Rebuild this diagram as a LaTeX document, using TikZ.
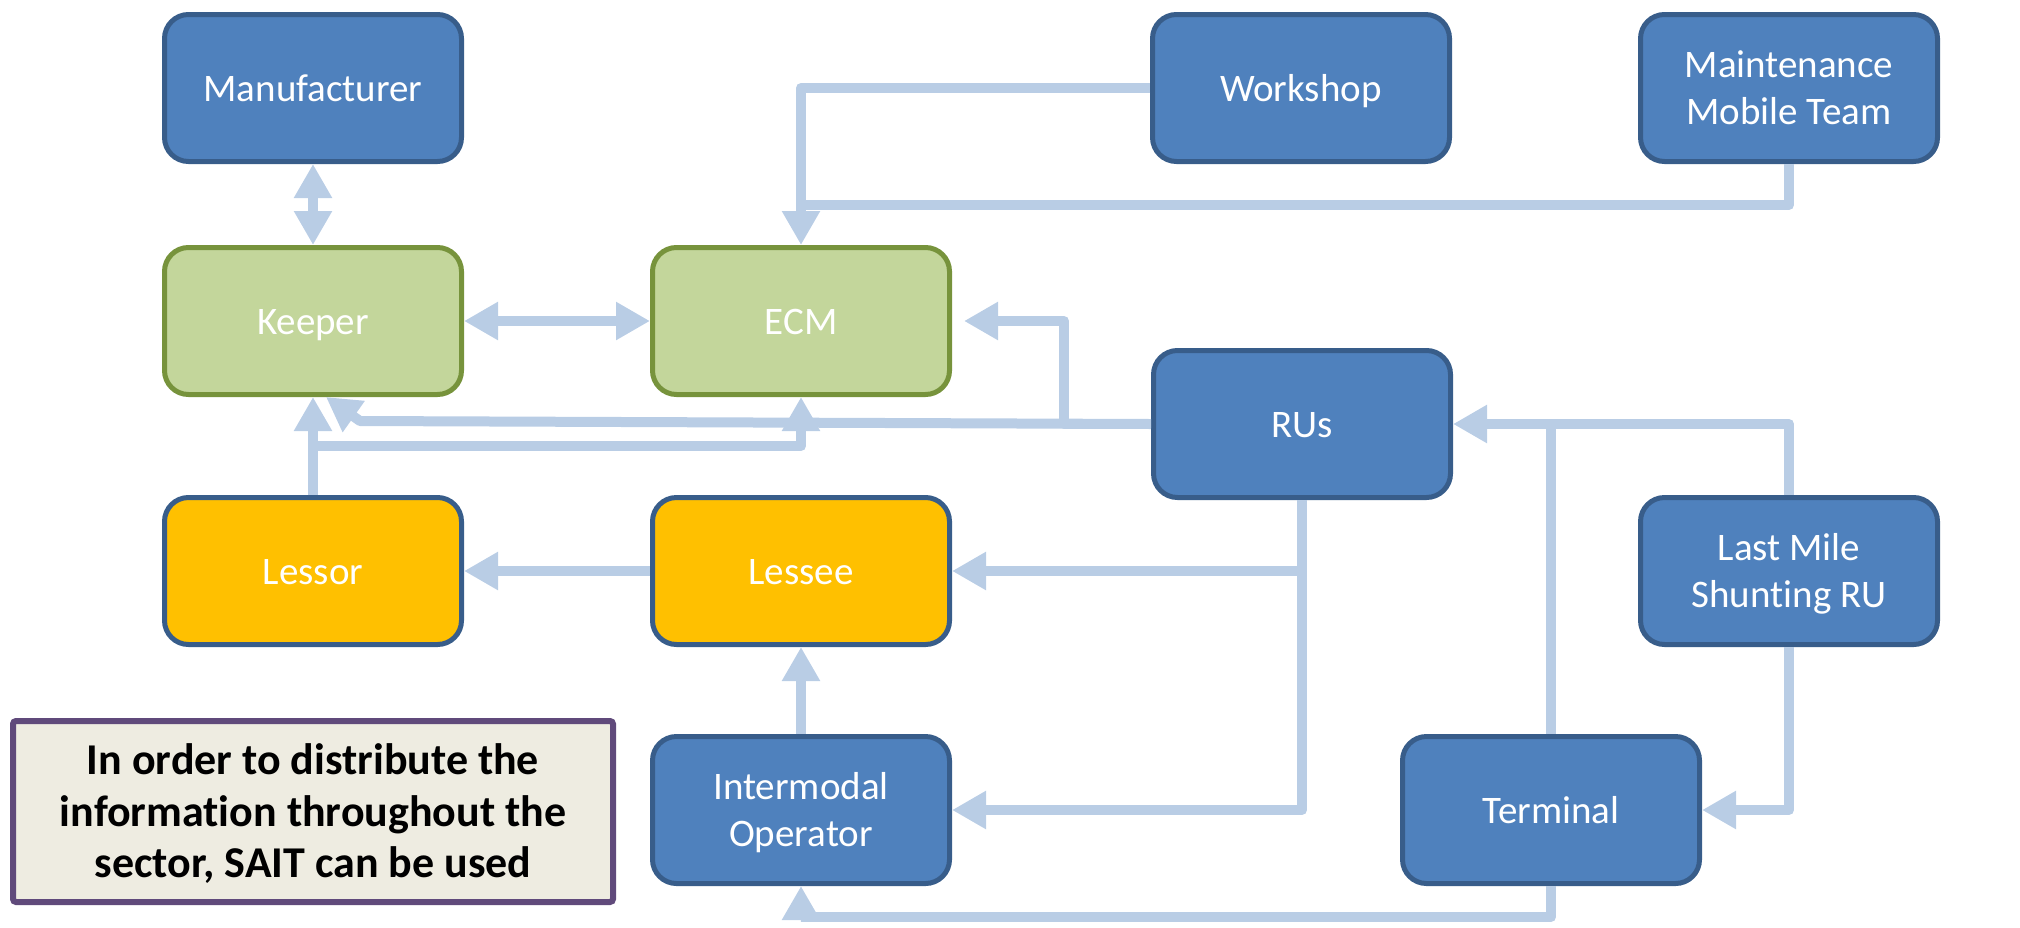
\documentclass[tikz,border=0pt]{standalone}
\usepackage{fontspec}
\setmainfont{Carlito}[Ligatures=NoCommon]
\usetikzlibrary{arrows.meta,calc}
\definecolor{boxblue}{HTML}{4F81BD}
\definecolor{edgeblue}{HTML}{385D8A}
\definecolor{boxgreen}{HTML}{C3D69B}
\definecolor{edgegreen}{HTML}{77933C}
\definecolor{boxgold}{HTML}{FFC000}
\definecolor{flow}{HTML}{B9CDE5}
\definecolor{notefill}{HTML}{EEECE1}
\definecolor{noteedge}{HTML}{604A7B}
% invisible struts that give the first and last text lines a fixed height and depth
\newcommand{\ls}{\rule[-10pt]{0pt}{46pt}}
\newcommand{\ns}{\rule[-11pt]{0pt}{51pt}}
\begin{document}
\begin{tikzpicture}[x=1pt,y=-1pt,
  actor/.style={rectangle, rounded corners=24pt, minimum width=297pt,
    minimum height=147pt, line width=5pt, text=white, align=center,
    inner sep=0pt, font=\fontsize{39}{47.6}\selectfont},
  bluebox/.style={actor, fill=boxblue, draw=edgeblue},
  greenbox/.style={actor, fill=boxgreen, draw=edgegreen},
  goldbox/.style={actor, fill=boxgold, draw=edgeblue},
  notebox/.style={rectangle, rounded corners=3pt, minimum width=600pt,
    minimum height=181pt, line width=6pt, fill=notefill, draw=noteedge,
    align=center, inner sep=0pt, font=\fontsize{44}{51.7}\selectfont\bfseries},
  flowline/.style={draw=flow, line width=10pt, line join=round},
  flowarrow/.style={flowline, -{Triangle[length=34pt,width=36pt]}},
  flowboth/.style={flowline, {Triangle[length=34pt,width=36pt]}-{Triangle[length=34pt,width=36pt]}}
]
\useasboundingbox (0,0) rectangle (2020,927);

% boxes
\node[bluebox]  (man)   at (313,88)   {\ls Manufacturer\ls};
\node[greenbox] (keep)  at (313,321)  {\ls Keeper\ls};
\node[greenbox] (ecm)   at (801,321)  {\ls ECM\ls};
\node[bluebox]  (work)  at (1301,88)  {\ls Workshop\ls};
\node[bluebox]  (maint) at (1789,88)  {\ls Maintenance\\Mobile Team\ls};
\node[bluebox]  (rus)   at (1302,424) {\ls RUs\ls};
\node[goldbox]  (lessor) at (313,571) {\ls Lessor\ls};
\node[goldbox]  (lessee) at (801,571) {\ls Lessee\ls};
\node[bluebox]  (last)  at (1789,571) {\ls Last Mile\\Shunting RU\ls};
\node[bluebox]  (inter) at (801,810)  {\ls Intermodal\\Operator\ls};
\node[bluebox]  (term)  at (1551,810) {\ls Terminal\ls};
\node[notebox]  (note)  at (313,811.5) {\ns In order to distribute the\\information throughout the\\sector, SAIT can be used\ns};

% junction points
\coordinate (mj) at (801,205);
\coordinate (ru1) at (1064,321);
\coordinate (kb) at (360,421);
\coordinate (lb) at (313,446);
\coordinate (tb) at (1551,917);

% connectors
\draw[flowboth] (man.south) -- (keep.north);
\draw[flowboth] (keep.east) -- (ecm.west);
\draw[flowarrow] (work.west) -| (ecm.north);
\draw[flowline] (maint.south) |- (mj);
\draw[flowarrow, shorten >=12pt] (rus.west) -| (ru1) -- (ecm.east);
\draw[flowarrow] (rus.west) -- (kb) -- ($(keep.south)+(13,0)$);
\draw[flowarrow] (lessor.north) -- (keep.south);
\draw[flowarrow] (lb) -| (ecm.south);
\draw[flowarrow] (lessee.west) -- (lessor.east);
\draw[flowarrow] (rus.south) |- (lessee.east);
\draw[flowarrow] (rus.south) |- (inter.east);
\draw[flowarrow] (inter.north) -- (lessee.south);
\draw[flowarrow] (term.south) -- (tb) -| (inter.south);
\draw[flowarrow] (last.north) |- (rus.east);
\draw[flowline] (term.north) -- (term.north |- rus.east);
\draw[flowarrow] (last.south) |- (term.east);
\end{tikzpicture}
\end{document}
